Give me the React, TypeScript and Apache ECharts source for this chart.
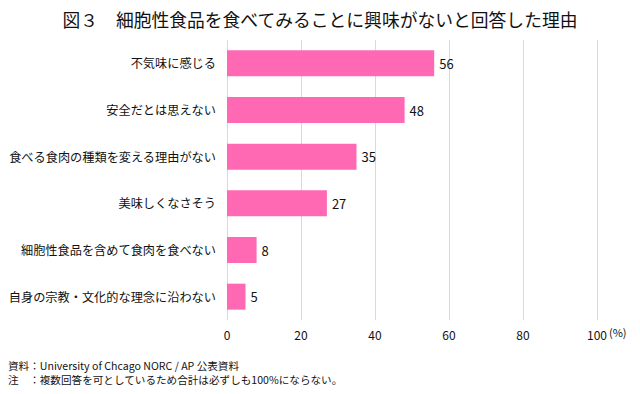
import React, { useEffect, useRef } from "react";
import * as echarts from "echarts";

const categories = [
  "不気味に感じる",
  "安全だとは思えない",
  "食べる食肉の種類を変える理由がない",
  "美味しくなさそう",
  "細胞性食品を含めて食肉を食べない",
  "自身の宗教・文化的な理念に沿わない",
];
const values = [56, 48, 35, 27, 8, 5];
const xTicks = [0, 20, 40, 60, 80, 100];
const title = "図３　細胞性食品を食べてみることに興味がないと回答した理由";
const note1 = "資料：University of Chcago NORC / AP 公表資料";
const note2 = "注　：複数回答を可としているため合計は必ずしも100%にならない。";

const FONT = "'Noto Sans CJK JP', 'Noto Sans', sans-serif";

export default function App() {
  const ref = useRef<HTMLDivElement>(null);
  useEffect(() => {
    document.body.style.margin = "0";
    const chart = echarts.init(ref.current!, null, { renderer: "svg" });
    chart.setOption({
      animation: false,
      backgroundColor: "#ffffff",
      textStyle: { fontFamily: FONT },
      title: {
        text: title,
        left: "center",
        top: 5,
        textStyle: { fontFamily: FONT, fontSize: 17.8, fontWeight: "normal", color: "#111" },
      },
      grid: { left: 227, right: 43, top: 40, bottom: 74, containLabel: false },
      xAxis: {
        type: "value",
        min: xTicks[0],
        max: xTicks[xTicks.length - 1],
        interval: 20,
        axisLine: { show: false },
        axisTick: { show: false },
        axisLabel: { color: "#111", fontSize: 12, margin: 8, fontFamily: FONT },
        splitLine: { show: true, lineStyle: { color: "#d9d9d9", width: 1 } },
      },
      yAxis: {
        type: "category",
        data: categories,
        inverse: true,
        axisLine: { show: false },
        axisTick: { show: false },
        axisLabel: { color: "#111", fontSize: 12.2, margin: 11, fontFamily: FONT },
      },
      series: [
        {
          type: "bar",
          data: values,
          barWidth: 26,
          itemStyle: { color: "#FF69B4" },
          label: {
            show: true,
            position: "right",
            distance: 5,
            color: "#111",
            fontSize: 13,
            fontFamily: FONT,
          },
        },
      ],
      graphic: [
        {
          type: "text",
          left: 609,
          top: 326,
          style: { text: "(%)", fontSize: 11, fill: "#111", fontFamily: FONT },
        },
        {
          type: "text",
          left: 8,
          top: 360,
          style: { text: note1, fontSize: 10.6, fill: "#111", fontFamily: FONT },
        },
        {
          type: "text",
          left: 8,
          top: 374,
          style: { text: note2, fontSize: 10.6, fill: "#111", fontFamily: FONT },
        },
      ],
    });
    return () => chart.dispose();
  }, []);
  return <div ref={ref} style={{ width: 640, height: 394 }} />;
}
